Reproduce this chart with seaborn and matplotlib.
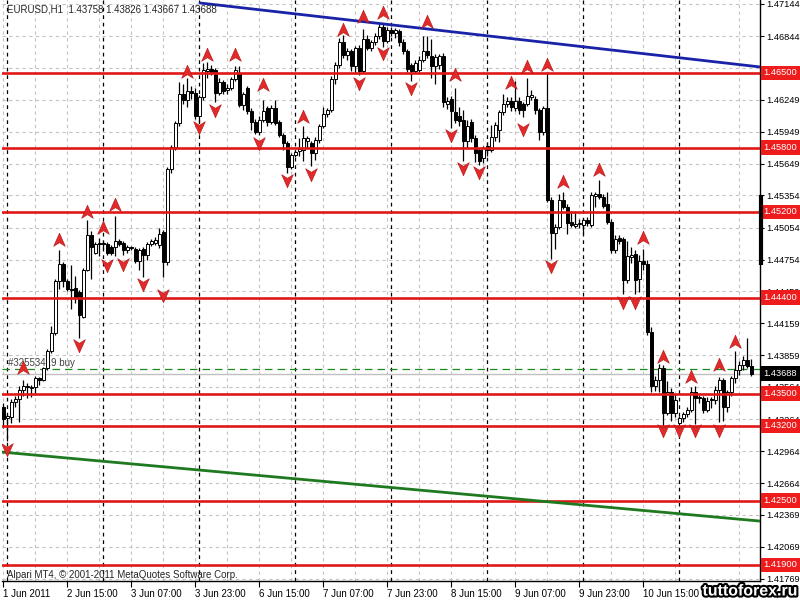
import numpy as np
import pandas as pd
import seaborn as sns
import matplotlib.pyplot as plt
from matplotlib.path import Path
import matplotlib.patheffects as pe

# EURUSD H1 candles, bar 0 = 1 Jun 23:00
opens = [
    1.4338, 1.4327, 1.4328, 1.4342, 1.4345, 1.4354, 1.4357, 1.4355, 1.4356, 1.4365,
    1.4363, 1.4374, 1.4390, 1.4407, 1.4455, 1.4471, 1.4455, 1.4448, 1.4449, 1.4445,
    1.4422, 1.4466, 1.4498, 1.4482, 1.4491, 1.4491, 1.4490, 1.4487, 1.4487, 1.4493,
    1.4491, 1.4484, 1.4487, 1.4485, 1.4474, 1.4485, 1.4480, 1.4490, 1.4491, 1.4489,
    1.4501, 1.4473, 1.4560, 1.4581, 1.4603, 1.4630, 1.4625, 1.4633, 1.4631, 1.4610,
    1.4627, 1.4652, 1.4654, 1.4653, 1.4631, 1.4641, 1.4634, 1.4636, 1.4644, 1.4650,
    1.4620, 1.4636, 1.4614, 1.4604, 1.4595, 1.4606, 1.4617, 1.4604, 1.4617, 1.4604,
    1.4592, 1.4584, 1.4562, 1.4573, 1.4577, 1.4578, 1.4586, 1.4584, 1.4575, 1.4587,
    1.4600, 1.4612, 1.4615, 1.4644, 1.4657, 1.4679, 1.4667, 1.4670, 1.4656, 1.4673,
    1.4652, 1.4682, 1.4673, 1.4679, 1.4684, 1.4693, 1.4680, 1.4690, 1.4687, 1.4689,
    1.4679, 1.4670, 1.4657, 1.4652, 1.4653, 1.4662, 1.4670, 1.4666, 1.4656, 1.4657,
    1.4666, 1.4621, 1.4626, 1.4613, 1.4610, 1.4606, 1.4586, 1.4604, 1.4589, 1.4578,
    1.4570, 1.4582, 1.4578, 1.4590, 1.4597, 1.4613, 1.4621, 1.4624, 1.4617, 1.4624,
    1.4621, 1.4621, 1.4627, 1.4626, 1.4615, 1.4595, 1.4617, 1.4531, 1.4500, 1.4506,
    1.4531, 1.4525, 1.4511, 1.4507, 1.4509, 1.4508, 1.4512, 1.4508, 1.4535, 1.4537,
    1.4534, 1.4527, 1.4511, 1.4484, 1.4496, 1.4495, 1.4456, 1.4478, 1.4481, 1.4457,
    1.4474, 1.4471, 1.4408, 1.4357, 1.4363, 1.4374, 1.4332, 1.4352, 1.4332, 1.4323,
    1.4327, 1.4331, 1.4335, 1.4352, 1.4346, 1.4346, 1.4335, 1.4345, 1.4344, 1.4354,
    1.4363, 1.4338, 1.4352, 1.4365, 1.4372, 1.4377, 1.4382, 1.43758,
]
highs = [
    1.4341, 1.4331, 1.4345, 1.4348, 1.4357, 1.4363, 1.4360, 1.4358, 1.4367, 1.4366,
    1.4375, 1.4392, 1.4413, 1.4457, 1.4484, 1.4473, 1.4457, 1.4470, 1.4460, 1.4447,
    1.4468, 1.4512, 1.4502, 1.4492, 1.4496, 1.4493, 1.4492, 1.4489, 1.4516, 1.4495,
    1.4493, 1.4489, 1.4488, 1.4487, 1.4486, 1.4487, 1.4492, 1.4495, 1.4497, 1.4505,
    1.4503, 1.4562, 1.4583, 1.4605, 1.4641, 1.4640, 1.4645, 1.4638, 1.4636, 1.4629,
    1.4659, 1.4660, 1.4657, 1.4655, 1.4645, 1.4643, 1.4640, 1.4646, 1.4656, 1.4656,
    1.4632, 1.4638, 1.4617, 1.4607, 1.4610, 1.4625, 1.4619, 1.4620, 1.4625, 1.4606,
    1.4594, 1.4586, 1.4575, 1.4578, 1.4589, 1.4600, 1.4591, 1.4586, 1.4590, 1.4602,
    1.4618, 1.4617, 1.4647, 1.4660, 1.4683, 1.4685, 1.4673, 1.4672, 1.4675, 1.4676,
    1.4691, 1.4685, 1.4681, 1.4687, 1.4696, 1.4696, 1.4693, 1.4693, 1.4692, 1.4691,
    1.4682, 1.4672, 1.4659, 1.4662, 1.4666, 1.4684, 1.4684, 1.4682, 1.4668, 1.4668,
    1.4669, 1.4627, 1.4628, 1.4636, 1.4618, 1.4615, 1.4606, 1.4607, 1.4592, 1.4580,
    1.4582, 1.4585, 1.4601, 1.4604, 1.4615, 1.4630, 1.4627, 1.4627, 1.4642, 1.4627,
    1.4623, 1.4645, 1.4634, 1.4628, 1.4617, 1.4619, 1.4651, 1.4534, 1.4509, 1.4537,
    1.4539, 1.4527, 1.4521, 1.4521, 1.4513, 1.4514, 1.4515, 1.4539, 1.4539, 1.4550,
    1.4537, 1.4539, 1.4513, 1.4498, 1.4498, 1.4497, 1.4493, 1.4487, 1.4484, 1.4480,
    1.4485, 1.4475, 1.4412, 1.4367, 1.4378, 1.4377, 1.4362, 1.4355, 1.4350, 1.4329,
    1.4333, 1.4338, 1.4356, 1.4357, 1.4349, 1.4348, 1.4347, 1.4347, 1.4357, 1.4366,
    1.4365, 1.4354, 1.4367, 1.4390, 1.4381, 1.4385, 1.4402, 1.43826,
]
lows = [
    1.4318, 1.4306, 1.4323, 1.4338, 1.4324, 1.4348, 1.4346, 1.4347, 1.4349, 1.4358,
    1.4362, 1.4372, 1.4388, 1.4405, 1.4448, 1.4450, 1.4446, 1.4429, 1.4435, 1.4402,
    1.4421, 1.4465, 1.4457, 1.4481, 1.4479, 1.4485, 1.4480, 1.4480, 1.4479, 1.4488,
    1.4480, 1.4482, 1.4484, 1.4472, 1.4466, 1.4459, 1.4475, 1.4488, 1.4489, 1.4486,
    1.4459, 1.4470, 1.4556, 1.4578, 1.4600, 1.4621, 1.4618, 1.4626, 1.4607, 1.4604,
    1.4625, 1.4645, 1.4648, 1.4623, 1.4629, 1.4630, 1.4630, 1.4634, 1.4642, 1.4618,
    1.4615, 1.4612, 1.4597, 1.4593, 1.4592, 1.4604, 1.4600, 1.4602, 1.4601, 1.4590,
    1.4578, 1.4556, 1.4560, 1.4571, 1.4572, 1.4568, 1.4580, 1.4563, 1.4569, 1.4584,
    1.4598, 1.4609, 1.4613, 1.4640, 1.4655, 1.4664, 1.4662, 1.4652, 1.4650, 1.4648,
    1.4650, 1.4671, 1.4670, 1.4676, 1.4682, 1.4674, 1.4678, 1.4684, 1.4683, 1.4675,
    1.4668, 1.4651, 1.4642, 1.4650, 1.4651, 1.4660, 1.4664, 1.4645, 1.4640, 1.4654,
    1.4618, 1.4616, 1.4598, 1.4603, 1.4600, 1.4568, 1.4580, 1.4585, 1.4567, 1.4564,
    1.4566, 1.4572, 1.4576, 1.4586, 1.4585, 1.4611, 1.4618, 1.4614, 1.4614, 1.4612,
    1.4609, 1.4619, 1.4625, 1.4612, 1.4587, 1.4592, 1.4529, 1.4476, 1.4485, 1.4504,
    1.4523, 1.4499, 1.4506, 1.4505, 1.4505, 1.4499, 1.4507, 1.4506, 1.4525, 1.4532,
    1.4524, 1.4509, 1.4482, 1.4482, 1.4490, 1.4443, 1.4454, 1.4472, 1.4443, 1.4445,
    1.4466, 1.4405, 1.4352, 1.4353, 1.4352, 1.4319, 1.4330, 1.4325, 1.4328, 1.4319,
    1.4324, 1.4328, 1.4333, 1.4322, 1.4341, 1.4332, 1.4333, 1.4337, 1.4340, 1.4324,
    1.4325, 1.4333, 1.4348, 1.4360, 1.4368, 1.4372, 1.4374, 1.43667,
]
closes = [
    1.4326, 1.4329, 1.4342, 1.4345, 1.4354, 1.4357, 1.4356, 1.4356, 1.4365, 1.4363,
    1.4374, 1.4390, 1.4407, 1.4455, 1.4471, 1.4455, 1.4448, 1.4447, 1.4440, 1.4424,
    1.4466, 1.4498, 1.4487, 1.4490, 1.4490, 1.4490, 1.4482, 1.4482, 1.4493, 1.4490,
    1.4484, 1.4487, 1.4486, 1.4474, 1.4484, 1.4480, 1.4490, 1.4493, 1.4494, 1.4499,
    1.4473, 1.4560, 1.4581, 1.4603, 1.4630, 1.4625, 1.4633, 1.4631, 1.4610, 1.4627,
    1.4653, 1.4654, 1.4651, 1.4631, 1.4641, 1.4633, 1.4636, 1.4644, 1.4653, 1.4620,
    1.4630, 1.4614, 1.4604, 1.4595, 1.4606, 1.4614, 1.4604, 1.4617, 1.4603, 1.4592,
    1.4584, 1.4562, 1.4573, 1.4576, 1.4579, 1.4589, 1.4589, 1.4575, 1.4587, 1.4600,
    1.4612, 1.4615, 1.4644, 1.4657, 1.4679, 1.4667, 1.4670, 1.4656, 1.4673, 1.4652,
    1.4682, 1.4673, 1.4679, 1.4684, 1.4693, 1.4680, 1.4690, 1.4687, 1.4690, 1.4679,
    1.4670, 1.4654, 1.4652, 1.4659, 1.4662, 1.4670, 1.4667, 1.4656, 1.4665, 1.4666,
    1.4623, 1.4624, 1.4614, 1.4606, 1.4605, 1.4586, 1.4600, 1.4589, 1.4575, 1.4568,
    1.4580, 1.4578, 1.4590, 1.4601, 1.4613, 1.4621, 1.4624, 1.4618, 1.4624, 1.4615,
    1.4615, 1.4628, 1.4629, 1.4615, 1.4595, 1.4617, 1.4531, 1.4500, 1.4506, 1.4531,
    1.4525, 1.4510, 1.4508, 1.4509, 1.4510, 1.4512, 1.4510, 1.4536, 1.4537, 1.4534,
    1.4526, 1.4511, 1.4484, 1.4495, 1.4493, 1.4456, 1.4479, 1.4480, 1.4456, 1.4474,
    1.4471, 1.4408, 1.4357, 1.4363, 1.4374, 1.4332, 1.4352, 1.4332, 1.4344, 1.4327,
    1.4331, 1.4335, 1.4352, 1.4346, 1.4347, 1.4335, 1.4343, 1.4344, 1.4354, 1.4363,
    1.4338, 1.4352, 1.4365, 1.4372, 1.4377, 1.4382, 1.4376, 1.43688,
]

# fractal arrows (bar, price)
up_bars = [5, 14, 21, 25, 28, 46, 51, 58, 65, 75, 85, 90, 95, 106, 113, 127, 131, 136, 140, 149, 160, 165, 172, 179, 183]
up_prices = [1.43741, 1.44938, 1.45199, 1.45050, 1.45265, 1.46508, 1.46667, 1.46667, 1.46387, 1.46088,
             1.46901, 1.47022, 1.47060, 1.46976, 1.46480, 1.46405, 1.46555, 1.46574, 1.45480, 1.45592,
             1.44956, 1.43844, 1.43657, 1.43769, 1.43984]
down_bars = [1, 19, 26, 30, 35, 40, 49, 53, 64, 71, 77, 89, 95, 102, 112, 115, 119, 130, 137, 155, 158, 165, 169, 173, 179]
down_prices = [1.42980, 1.43956, 1.44704, 1.44713, 1.44526, 1.44423, 1.45994, 1.46153, 1.45844, 1.45499,
               1.45555, 1.46405, 1.46686, 1.46359, 1.45919, 1.45611, 1.45573, 1.45975, 1.44695, 1.44358,
               1.44358, 1.43161, 1.43161, 1.43161, 1.43161]

# horizontal levels and trend lines
levels = [1.4650, 1.4580, 1.4520, 1.4440, 1.4350, 1.4320, 1.4250, 1.4190]
blue_x = [49.2, 189.2]
blue_y = [1.47153, 1.46555]
green_x = [-0.3, 189.2]
green_y = [1.42955, 1.42310]
order_price = 1.43731
bid_price = 1.43688
edge_bar = [1.4470, 1.4536]

yticks = [1.47144, 1.46844, 1.46544, 1.46249, 1.45949, 1.45649, 1.45354, 1.45054, 1.44754, 1.44459,
          1.44159, 1.43859, 1.43564, 1.43264, 1.42964, 1.42664, 1.42369, 1.42069, 1.41769]
xtick_bars = [0, 16, 32, 48, 64, 80, 96, 112, 128, 144, 160]
xtick_labels = ["1 Jun 2011", "2 Jun 15:00", "3 Jun 07:00", "3 Jun 23:00", "6 Jun 15:00", "7 Jun 07:00",
                "7 Jun 23:00", "8 Jun 15:00", "9 Jun 07:00", "9 Jun 23:00", "10 Jun 15:00"]
day_starts = [1, 25, 49, 73, 97, 121, 145, 169]

sns.set_style("white")
plt.rcParams['font.family'] = ['Liberation Sans', 'DejaVu Sans']
FS = 7
YFS = 6.7

df = pd.DataFrame({'bar': np.arange(len(closes)), 'open': opens, 'high': highs,
                   'low': lows, 'close': closes})

fig = plt.figure(figsize=(8, 6), dpi=100)
ax = fig.add_axes([2 / 800, 19 / 600, 758 / 800, 581 / 600])
ax.set_xlim(-0.33, 189.18)
ax.set_ylim(1.41750, 1.47181)

# grid + day separators
ax.set_yticks(yticks)
ax.set_yticklabels([f'{v:.5f}' for v in yticks])
ax.set_xticks(xtick_bars)
ax.set_xticklabels(xtick_labels, ha='left')
ax.set_xticks(np.arange(8, 189, 16), minor=True)
ax.grid(True, which='both', color='#c4c4c4', ls=(0, (3, 3)), lw=0.8, zorder=0)
for b in day_starts:
    ax.axvline(b, color='black', lw=0.9, ls=(0, (3, 3)), zorder=1)

ax.axhline(bid_price, color='#c0c0c0', lw=1, zorder=1)
ax.axhline(order_price, color='#1c8a1c', lw=0.9, ls=(0, (6, 4)), zorder=2)
ax.text(1.2, order_price + 0.00008, '#32553419 buy', fontsize=FS, color='#404040', va='bottom', zorder=2)

# candles
ax.vlines(df.bar, df.low, df.high, color='black', lw=0.9, zorder=3)
bull = df[df.close >= df.open]
bear = df[df.close < df.open]
for part, face in ((bull, 'white'), (bear, 'black')):
    body = (part.close - part.open).abs().clip(lower=0.00004)
    ax.bar(part.bar, body, bottom=part[['open', 'close']].min(axis=1), width=0.62,
           color=face, edgecolor='black', linewidth=0.7, zorder=4)

# lines
for lv in levels:
    ax.axhline(lv, color='#e01818', lw=1.9, zorder=5)
sns.lineplot(x=blue_x, y=blue_y, color='#1a22a8', lw=2, ax=ax, zorder=5)
sns.lineplot(x=green_x, y=green_y, color='#1f7a1f', lw=2, ax=ax, zorder=5)

# fractal arrows
up_mark = Path([(0, 1), (0.8, -0.8), (0, -0.3), (-0.8, -0.8), (0, 1)],
               [Path.MOVETO, Path.LINETO, Path.LINETO, Path.LINETO, Path.CLOSEPOLY])
down_mark = Path([(0, -1), (0.8, 0.8), (0, 0.3), (-0.8, 0.8), (0, -1)],
                 [Path.MOVETO, Path.LINETO, Path.LINETO, Path.LINETO, Path.CLOSEPOLY])
sns.scatterplot(x=up_bars, y=up_prices, marker=up_mark, s=110, color='#e22a2a',
                edgecolor='#b01010', linewidth=0.4, ax=ax, zorder=6)
sns.scatterplot(x=down_bars, y=down_prices, marker=down_mark, s=110, color='#e22a2a',
                edgecolor='#b01010', linewidth=0.4, ax=ax, zorder=6)

# axes styling
ax.yaxis.tick_right()
ax.tick_params(axis='y', which='major', direction='out', length=3, width=0.8, pad=1.5,
               labelsize=YFS, colors='black', right=True, left=False)
ax.tick_params(axis='x', which='major', direction='out', length=4, width=0.8, pad=2,
               labelsize=FS, colors='black', bottom=True)
ax.tick_params(axis='x', which='minor', length=0)
for side in ['top', 'left']:
    ax.spines[side].set_visible(False)
for side in ['right', 'bottom']:
    ax.spines[side].set_color('black')
    ax.spines[side].set_linewidth(1)
ax.set_xlabel('')
ax.set_ylabel('')

# price labels on the right scale
for lv in levels:
    ax.annotate(f'{lv:.5f}', xy=(1, lv), xycoords=('axes fraction', 'data'), xytext=(2.5, 0),
                textcoords='offset points', ha='left', va='center', fontsize=YFS, color='white',
                bbox=dict(boxstyle='square,pad=0.3', fc='#ee1c1c', ec='none'),
                annotation_clip=False, zorder=10)
ax.annotate(f'{bid_price:.5f}', xy=(1, bid_price), xycoords=('axes fraction', 'data'), xytext=(2.5, 0),
            textcoords='offset points', ha='left', va='center', fontsize=YFS, color='white',
            bbox=dict(boxstyle='square,pad=0.3', fc='black', ec='none'),
            annotation_clip=False, zorder=10)
ax.vlines(189.45, edge_bar[0], edge_bar[1], color='black', lw=3, clip_on=False, zorder=10)

fig.text(7 / 800, 1 - 10 / 600, 'EURUSD,H1  1.43758 1.43826 1.43667 1.43688', fontsize=FS, va='center')
fig.text(7 / 800, 1 - 575 / 600, 'Alpari MT4, © 2001-2011 MetaQuotes Software Corp.', fontsize=FS, va='center')
fig.text(798 / 800, 1 - 591 / 600, 'tuttoforex.ru', ha='right', va='center', fontsize=11.5,
         fontweight='bold', color='white', path_effects=[pe.withStroke(linewidth=3, foreground='black')])

fig.savefig('out.png', dpi=100, facecolor='white')
